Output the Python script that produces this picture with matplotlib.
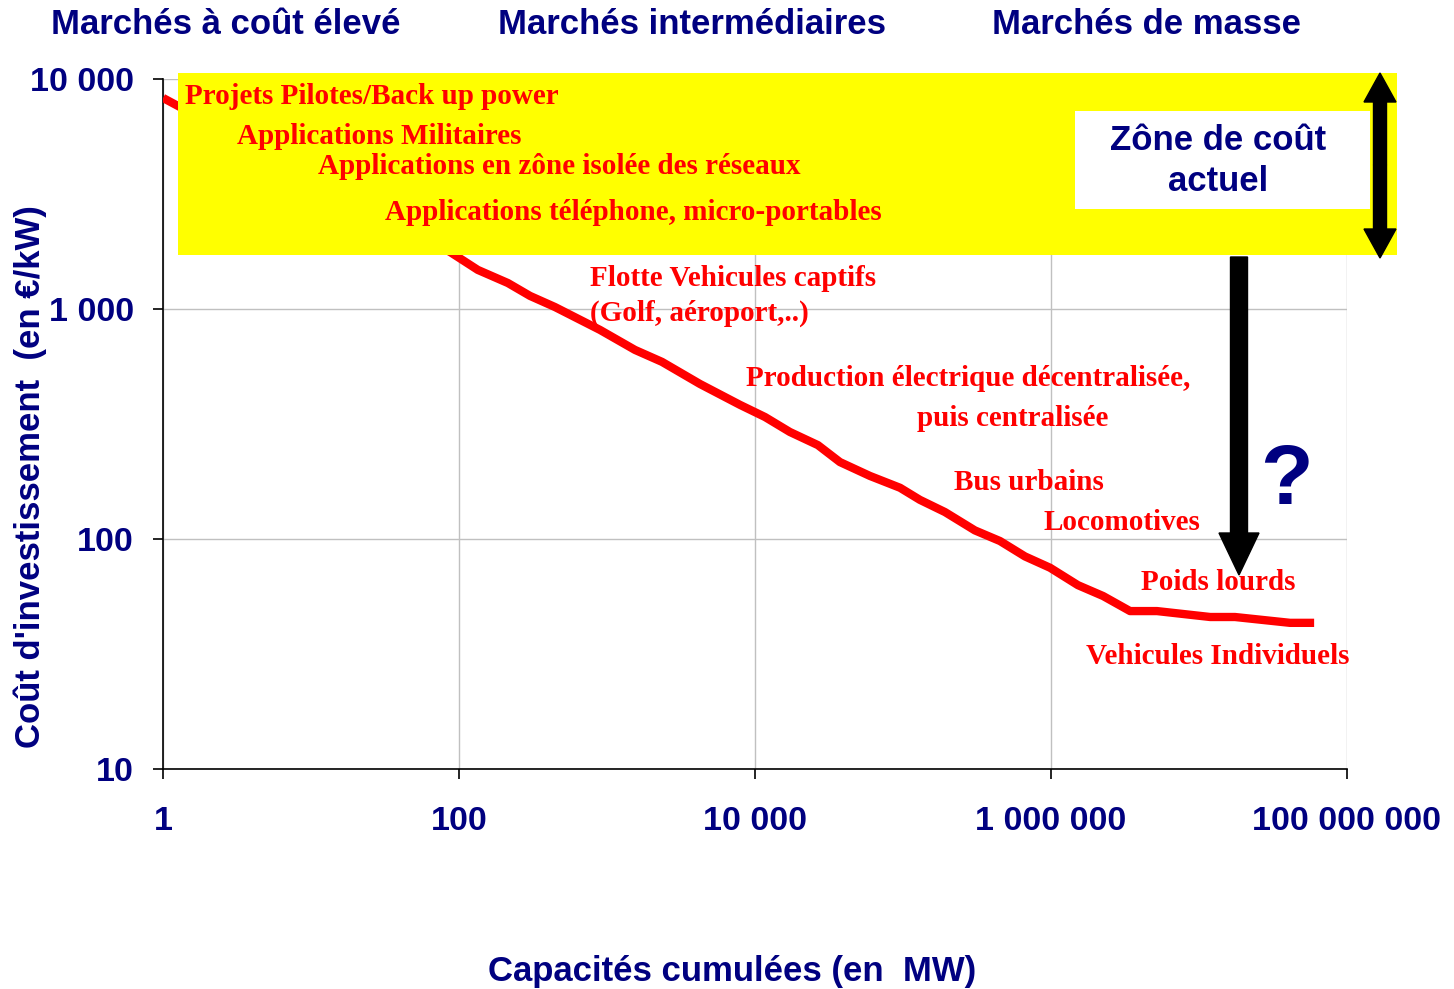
import matplotlib
matplotlib.use("Agg")
import matplotlib.pyplot as plt
from matplotlib.patches import Rectangle, FancyArrow
from matplotlib.ticker import FixedLocator, NullLocator

# learning curve
capacity_mw = [1.06, 87, 134, 214, 302, 445, 897, 1545, 2353, 4250, 7920, 11700,
               17200, 26600, 37500, 59800, 95500, 130000, 192000, 306000, 452000,
               667000, 985000, 1.52e6, 2.25e6, 3.42e6, 5.2e6, 1.19e7, 1.75e7,
               4.12e7, 5.62e7]
cost_eur_kw = [8110, 1770, 1479, 1297, 1140, 1020, 811, 664, 589, 472, 383, 339,
               292, 256, 216, 188, 167, 148, 131, 109, 98, 84, 75, 63, 56.5, 48.6,
               48.6, 45.8, 45.8, 43.2, 43.2]

x_ticks = [1, 1e2, 1e4, 1e6, 1e8]
x_tick_labels = ["1", "100", "10 000", "1 000 000", "100 000 000"]
y_ticks = [10, 100, 1000, 10000]
y_tick_labels = ["10", "100", "1 000", "10 000"]

market_titles = ["Marchés à coût élevé", "Marchés intermédiaires", "Marchés de masse"]
applications = ["Projets Pilotes/Back up power", "Applications Militaires",
                "Applications en zône isolée des réseaux",
                "Applications téléphone, micro-portables",
                "Flotte Vehicules captifs", "(Golf, aéroport,..)",
                "Production électrique décentralisée,", "puis centralisée",
                "Bus urbains", "Locomotives", "Poids lourds", "Vehicules Individuels"]

W, H = 1454, 989
NAVY = "#000080"
sans = "Liberation Sans"
serif = "Liberation Serif"

fig = plt.figure(figsize=(W / 100, H / 100), dpi=100)
ax = fig.add_axes([163 / W, 1 - 769 / H, (1347 - 163) / W, (769 - 79) / H])

ax.plot(capacity_mw, cost_eur_kw, color="red", lw=6, solid_joinstyle="round", zorder=3)
ax.set_xscale("log")
ax.set_yscale("log")
ax.set_xlim(1, 1e8)
ax.set_ylim(10, 10000)
ax.xaxis.set_major_locator(FixedLocator(x_ticks))
ax.yaxis.set_major_locator(FixedLocator(y_ticks))
ax.xaxis.set_minor_locator(NullLocator())
ax.yaxis.set_minor_locator(NullLocator())
ax.set_xticklabels(x_tick_labels)
ax.set_yticklabels(y_tick_labels)
ax.grid(True, color="#c0c0c0", lw=1)
ax.set_axisbelow(True)
for s in ["top", "right"]:
    ax.spines[s].set_visible(False)
ax.spines["left"].set_linewidth(1.2)
ax.spines["bottom"].set_linewidth(1.2)
ax.tick_params(axis="both", direction="out", length=7, width=1.2)
ax.tick_params(axis="x", pad=20)
ax.tick_params(axis="y", pad=14)
for lab in ax.get_xticklabels() + ax.get_yticklabels():
    lab.set_fontfamily(sans)
    lab.set_fontweight("bold")
    lab.set_fontsize(24.5)
    lab.set_color(NAVY)

# overlay in pixel coordinates for the yellow zone, arrows and labels
ov = fig.add_axes([0, 0, 1, 1], zorder=5)
ov.set_xlim(0, W)
ov.set_ylim(H, 0)
ov.axis("off")
ov.patch.set_alpha(0)

ov.add_patch(Rectangle((178, 73), 1219, 182, facecolor="#ffff00", edgecolor="none"))
ov.add_patch(Rectangle((1075, 111), 295, 98, facecolor="white", edgecolor="none"))
ov.text(1218, 161, "Zône de coût\nactuel", ha="center", va="center", color=NAVY,
        fontsize=25, fontweight="bold", family=sans, linespacing=1.3)

# double arrow (current cost zone)
for y0, dy in [(165, -92), (165, 93)]:
    ov.add_patch(FancyArrow(1380, y0, 0, dy, width=13, head_width=32, head_length=29,
                            length_includes_head=True, color="black"))
# downward arrow
ov.add_patch(FancyArrow(1239, 257, 0, 318, width=17, head_width=40, head_length=42,
                        length_includes_head=True, color="black"))
ov.text(1286, 482, "?", ha="center", va="center", color=NAVY, fontsize=62,
        fontweight="bold", family=sans)

for t, x in zip(market_titles, [226, 692, 1146]):
    ov.text(x, 24, t, ha="center", va="center", color=NAVY, fontsize=25,
            fontweight="bold", family=sans)

app_pos = [(185, 97), (237, 137), (318, 167), (385, 213), (590, 278), (590, 313),
           (746, 378), (917, 418), (954, 482), (1043, 522), (1141, 583), (1086, 657)]
for t, (x, y) in zip(applications, app_pos):
    ov.text(x, y, t, ha="left", va="center", color="red", fontsize=21,
            fontweight="bold", family=serif)

ov.text(732, 971, "Capacités cumulées (en  MW)", ha="center", va="center", color=NAVY,
        fontsize=25, fontweight="bold", family=sans)
ov.text(30, 477, "Coût d'investissement  (en €/kW)", ha="center", va="center",
        rotation=90, color=NAVY, fontsize=25, fontweight="bold", family=sans)

fig.savefig("out.png", dpi=100)
